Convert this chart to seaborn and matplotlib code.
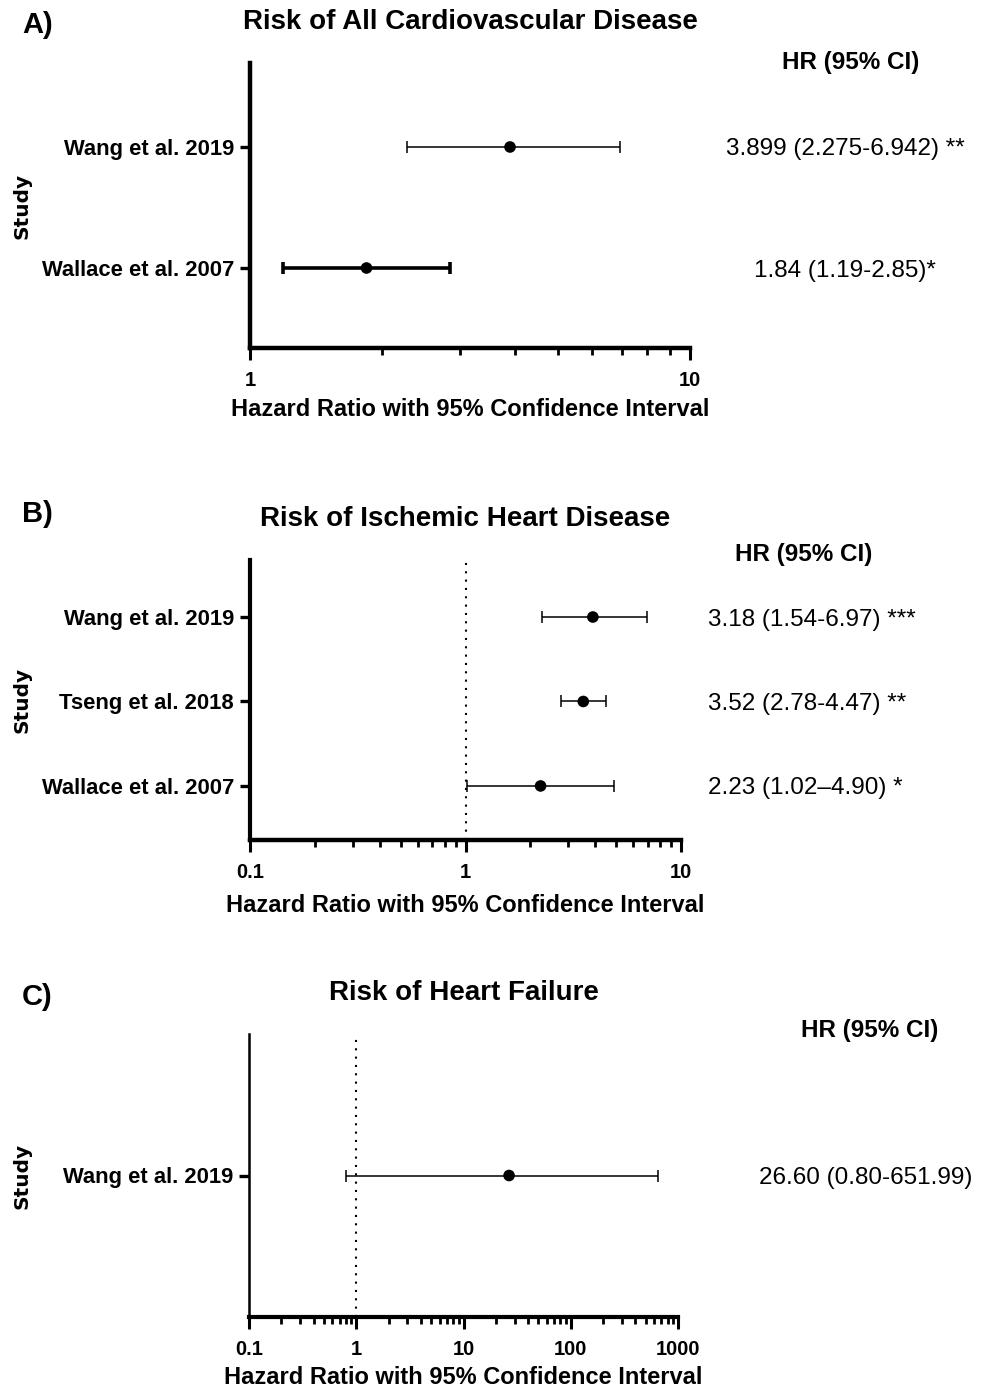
import matplotlib

matplotlib.use("Agg")
import matplotlib.pyplot as plt
import matplotlib.transforms as mtransforms
import numpy as np
import pandas as pd
import seaborn as sns
from matplotlib.ticker import NullFormatter

sns.set_theme(style="ticks")
plt.rcParams["font.family"] = ["Liberation Sans", "DejaVu Sans"]
plt.rcParams.update({
    "text.color": "black",
    "axes.labelcolor": "black",
    "axes.edgecolor": "black",
    "xtick.color": "black",
    "ytick.color": "black",
})

W, H = 988, 1391

# A) all cardiovascular disease
studies_a = ["Wang et al. 2019", "Wallace et al. 2007"]
hr_a = [3.899, 1.84]
lo_a = [2.275, 1.19]
hi_a = [6.942, 2.85]
text_a = ["3.899 (2.275-6.942) **", "1.84 (1.19-2.85)*"]
ticks_a = [1, 10]

# B) ischemic heart disease (points as drawn on the chart)
studies_b = ["Wang et al. 2019", "Tseng et al. 2018", "Wallace et al. 2007"]
hr_b = [3.90, 3.52, 2.23]
lo_b = [2.27, 2.78, 1.02]
hi_b = [6.95, 4.47, 4.90]
text_b = ["3.18 (1.54-6.97) ***", "3.52 (2.78-4.47) **", "2.23 (1.02–4.90) *"]
ticks_b = [0.1, 1, 10]

# C) heart failure
studies_c = ["Wang et al. 2019"]
hr_c = [26.60]
lo_c = [0.80]
hi_c = [651.99]
text_c = ["26.60 (0.80-651.99)"]
ticks_c = [0.1, 1, 10, 100, 1000]


def fy(y):
    return 1 - y / H


def draw_panel(fig, box, letter, title, studies, hr, lo, hi, texts, ticks, ylim,
               bar_lw, spine_lw, letter_y, hr_xy, text_x, text_ha, xlabel_y, ref_line):
    left, top, right, bottom = box
    ax = fig.add_axes([left / W, fy(bottom), (right - left) / W, (bottom - top) / H])
    df = pd.DataFrame({"study": studies, "hr": hr, "lo": lo, "hi": hi})
    df["pos"] = np.arange(len(df))

    if ref_line:
        ax.axvline(1, color="black", lw=1.5, ls=(0, (1, 3)), zorder=1)
    for row, lw in zip(df.itertuples(), bar_lw):
        ax.errorbar(row.hr, row.pos, xerr=[[row.hr - row.lo], [row.hi - row.hr]],
                    fmt="none", ecolor="black", elinewidth=lw, capsize=4, capthick=lw, zorder=2)
    sns.scatterplot(data=df, x="hr", y="pos", color="black", s=70, edgecolor="none",
                    zorder=3, legend=False, ax=ax)

    ax.set_xscale("log")
    ax.set_xlim(ticks[0], ticks[-1])
    ax.set_xticks(ticks)
    ax.set_xticklabels([f"{t:g}" for t in ticks], fontweight="bold", fontsize=14.5)
    ax.xaxis.set_minor_formatter(NullFormatter())
    ax.set_yticks(df["pos"])
    ax.set_yticklabels(df["study"], fontweight="bold", fontsize=15.8)
    ax.set_ylim(*ylim)
    ax.set_xlabel("")
    ax.set_ylabel("")

    sns.despine(ax=ax)
    ax.spines["left"].set_linewidth(spine_lw[0])
    ax.spines["bottom"].set_linewidth(spine_lw[1])
    ax.tick_params(axis="x", which="major", length=8.6, width=2.2, pad=8, color="black")
    ax.tick_params(axis="x", which="minor", length=5, width=2.0, color="black")
    ax.tick_params(axis="y", length=7, width=2.4, pad=4.5, color="black")

    cx = (left + right) / 2 / W
    fig.text(22 / W, fy(letter_y), letter, fontsize=21, fontweight="bold", va="center", ha="left")
    fig.text(cx, fy(top - 41), title, fontsize=20, fontweight="bold", ha="center", va="center")
    fig.text(cx, fy(xlabel_y), "Hazard Ratio with 95% Confidence Interval",
             fontsize=17, fontweight="bold", ha="center", va="center")
    fig.text(22 / W, fy((top + bottom) / 2), "Study", rotation=90, fontsize=14.5,
             fontweight="bold", family=["DejaVu Sans"], ha="center", va="center")
    fig.text(hr_xy[0] / W, fy(hr_xy[1]), "HR (95% CI)", fontsize=17.5, fontweight="bold",
             ha="center", va="center")

    trans = mtransforms.blended_transform_factory(fig.transFigure, ax.transData)
    for pos, label in zip(df["pos"], texts):
        ax.text(text_x / W, pos, label, transform=trans, fontsize=17.5,
                ha=text_ha, va="center_baseline", clip_on=False)
    return ax


fig = plt.figure(figsize=(W / 100, H / 100), dpi=100)
fig.patch.set_facecolor("white")

draw_panel(fig, (250, 63, 690, 348), "A)", "Risk of All Cardiovascular Disease",
           studies_a, hr_a, lo_a, hi_a, text_a, ticks_a, (1.661, -0.694),
           bar_lw=[1.1, 2.6], spine_lw=(3.2, 3.2), letter_y=25, hr_xy=(851, 62),
           text_x=845, text_ha="center", xlabel_y=410, ref_line=False)

draw_panel(fig, (250, 560, 681, 840), "B)", "Risk of Ischemic Heart Disease",
           studies_b, hr_b, lo_b, hi_b, text_b, ticks_b, (2.64, -0.675),
           bar_lw=[1.1, 1.1, 1.1], spine_lw=(3.0, 3.2), letter_y=514, hr_xy=(804, 555),
           text_x=708, text_ha="left", xlabel_y=906, ref_line=True)

draw_panel(fig, (249, 1034, 678, 1317), "C)", "Risk of Heart Failure",
           studies_c, hr_c, lo_c, hi_c, text_c, ticks_c, (1.0, -1.0),
           bar_lw=[1.1], spine_lw=(1.8, 3.0), letter_y=997, hr_xy=(870, 1031),
           text_x=866, text_ha="center", xlabel_y=1378, ref_line=True)

fig.savefig("out.png", dpi=100)
plt.close(fig)
